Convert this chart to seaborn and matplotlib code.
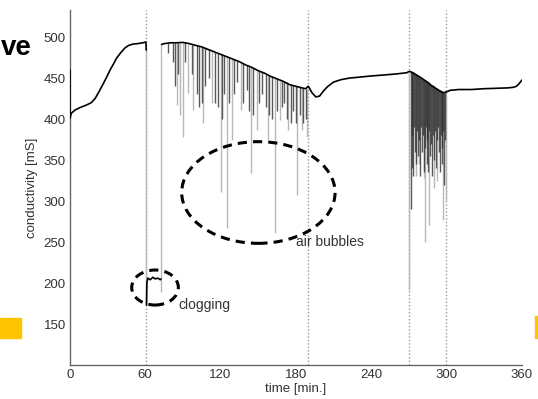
import numpy as np
import pandas as pd
import matplotlib
matplotlib.use("Agg")
import matplotlib.pyplot as plt
from matplotlib.patches import Ellipse, Rectangle
import seaborn as sns

# ---------------- data ----------------
# baseline segments of the conductivity signal
seg1_t = [0.0, 0.0, 1.0, 4.0, 8.0, 13.0, 17.0, 20.0, 23.0, 26.5, 29.5, 32.0, 35.0, 37.0, 40.5, 44.0, 47.0, 50.5, 54.0, 58.0, 60.5, 60.8]
seg1_v = [460, 401, 407, 411, 414, 417, 420, 425, 433, 443, 452, 460, 468, 474, 481, 487, 490, 491.5, 492, 493, 494, 484]

seg2_t = [61.0, 61.3, 62.0, 64.0, 66.0, 68.0, 70.0, 72.0, 72.6]
seg2_v = [173, 200, 206, 204, 207, 205, 206, 204, 205]

seg3_t = [73, 75, 80, 85, 90, 95, 100, 105, 110, 115, 120, 125, 130, 135, 140, 145, 150, 155, 160, 165, 170, 175, 180, 185, 188, 190,
          193, 196, 199, 202, 205, 210, 216, 223, 230, 240, 250, 260, 268.6, 270.2]
seg3_v = [491, 492, 493, 493, 493.5, 492, 490, 488, 485, 482, 479, 476, 473, 470, 466, 463, 459, 456, 452, 449, 446, 442, 440, 438, 437, 440,
          432, 427, 428, 434, 439, 445, 448, 450, 451, 452.5, 453.7, 455, 456.5, 458]

seg4_t = [271, 274, 277, 280.6, 283, 285.9, 288, 291, 294, 297.7, 300, 301.6, 303, 310, 320, 330, 340, 349, 353.5, 356, 358, 360.4]
seg4_v = [458, 456, 453, 449.6, 447, 444, 441, 438, 435, 432, 433, 434, 435, 436, 436, 437, 437.5, 438, 438.7, 440, 443, 447.6]

# deep, light grey spikes: time, lowest value, top value
light_t   = [60.8, 72.8, 85, 88, 90, 94, 98, 106, 113, 120, 125.5, 129, 136, 144, 149, 158, 163.6, 167.6, 174, 181, 185, 189,
             270.5, 276, 278, 282, 283, 286.5, 290.5, 293, 297.7, 299.5]
light_bot = [173, 189, 417, 405, 378, 432, 411, 395, 420, 311, 267, 374, 411, 334, 387, 374, 261, 399, 387, 307, 387, 378,
             191, 330, 345, 328, 250, 271, 316, 325, 277, 300]
light_top = [484, 492, 493, 493, 493.5, 492, 491, 488, 484, 479, 476, 473, 470, 463, 459, 453, 450, 447, 442, 440, 438, 437,
             457, 455, 453, 449, 448, 444, 439, 436, 432, 433]

# shorter, dark spikes: time, lowest value, top value
dark_t   = [78, 82, 84, 86, 92, 97, 101, 103, 105, 108, 111, 116, 118, 121, 123, 127, 131, 133, 138, 141, 143, 146, 151, 153,
            156, 159, 161, 165, 169, 171, 173, 176, 178, 180, 183, 186, 188,
            271.5, 272.3, 273.0, 273.8, 274.5, 275.3, 276.0, 276.8, 277.5, 278.3, 279.0, 279.8, 280.5, 281.3, 282.0, 282.8,
            283.5, 284.3, 285.0, 285.8, 286.5, 287.3, 288.0, 288.8, 289.5, 290.3, 291.0, 291.8, 292.5, 293.3, 294.0, 294.8,
            295.5, 296.3, 297.0, 297.8, 298.5, 299.3]
dark_bot = [480, 470, 440, 455, 470, 455, 430, 415, 420, 440, 450, 420, 415, 400, 430, 420, 430, 445, 420, 435, 410, 405, 420, 430,
            415, 405, 400, 410, 415, 420, 400, 395, 410, 395, 405, 395, 400,
            290, 340, 380, 330, 390, 360, 345, 385, 355, 375, 330, 390, 360, 380, 335, 365, 390, 345, 375, 335, 385, 355,
            370, 330, 380, 350, 385, 340, 375, 390, 360, 335, 380, 365, 345, 385, 320, 375]
dark_top = [493, 493, 493, 493, 493.5, 492, 490, 489, 488, 487, 485, 482, 481, 479, 477, 475, 473, 471, 468, 466, 464, 462, 459, 457,
            455, 453, 452, 449, 447, 446, 445, 442, 441, 440, 439, 438, 437,
            458, 457.5, 457, 456.5, 456, 455, 454, 453.5, 453, 452, 451, 450, 449.5, 448.5, 448, 447.5, 447, 446, 445.5, 444.5,
            444, 443, 442, 441.5, 441, 440, 439, 438, 437.5, 437, 436, 435, 434.5, 434, 433, 432.5, 432, 432.5]

event_lines = [60.5, 190, 270, 300]
x_ticks = [0, 60, 120, 180, 240, 300, 360]
y_ticks = [150, 200, 250, 300, 350, 400, 450, 500]

# ---------------- figure ----------------
sns.set_style("white")
plt.rcParams["font.family"] = ["Liberation Sans", "DejaVu Sans"]

fig = plt.figure(figsize=(5.38, 3.99), dpi=100)
ax = fig.add_axes([70 / 538, 34 / 399, 451.5 / 538, 355 / 399])

df = pd.concat([
    pd.DataFrame({"t": seg1_t, "v": seg1_v, "seg": 1}),
    pd.DataFrame({"t": seg2_t, "v": seg2_v, "seg": 2}),
    pd.DataFrame({"t": seg3_t, "v": seg3_v, "seg": 3}),
    pd.DataFrame({"t": seg4_t, "v": seg4_v, "seg": 4}),
], ignore_index=True)

for xe in event_lines:
    ax.axvline(xe, color="#9a9a9a", ls=(0, (1, 1.5)), lw=1, zorder=1)

ax.vlines(light_t, light_bot, light_top, color="#b8b8b8", lw=1, zorder=2)
ax.vlines(dark_t, dark_bot, dark_top, color="#303030", lw=1, alpha=0.8, zorder=3)

sns.lineplot(data=df, x="t", y="v", units="seg", estimator=None, sort=False,
             color="black", lw=1.2, ax=ax, legend=False, zorder=4)

ax.add_patch(Ellipse((67.8, 194.5), 37.2, 42.7, fill=False, ec="black", lw=2.2, ls=(0, (3, 2)), zorder=5))
ax.add_patch(Ellipse((150.2, 310.4), 122.3, 124, fill=False, ec="black", lw=2.2, ls=(0, (3, 2)), zorder=5))
ax.text(86.2, 173, "clogging", fontsize=10, color="#333333", ha="left", va="center")
ax.text(180.3, 250, "air bubbles", fontsize=10, color="#333333", ha="left", va="center")

ax.set_xlim(0, 360)
ax.set_ylim(100, 533)
ax.set_xticks(x_ticks)
ax.set_yticks(y_ticks)
ax.tick_params(direction="in", length=4, width=1, colors="#555555", labelcolor="#333333", labelsize=9.5, pad=3)
for s in ["top", "right"]:
    ax.spines[s].set_visible(False)
for s in ["left", "bottom"]:
    ax.spines[s].set_color("#666666")
    ax.spines[s].set_linewidth(1)
ax.set_xlabel("time [min.]", fontsize=9.5, color="#333333", labelpad=1)
ax.set_ylabel("conductivity [mS]", fontsize=9.5, color="#333333", labelpad=4)

# slide decorations around the chart
fig.text(1 / 538, 1 - 48 / 399, "ve", fontsize=20, fontweight="bold", ha="left", va="center", color="black")
fig.patches.append(Rectangle((0, 1 - 338 / 399), 21 / 538, 20 / 399, transform=fig.transFigure, color="#FFC400", zorder=0))
fig.patches.append(Rectangle((535 / 538, 1 - 338 / 399), 3 / 538, 22 / 399, transform=fig.transFigure, color="#FFC400", zorder=0))

fig.savefig("out.png", dpi=100)
